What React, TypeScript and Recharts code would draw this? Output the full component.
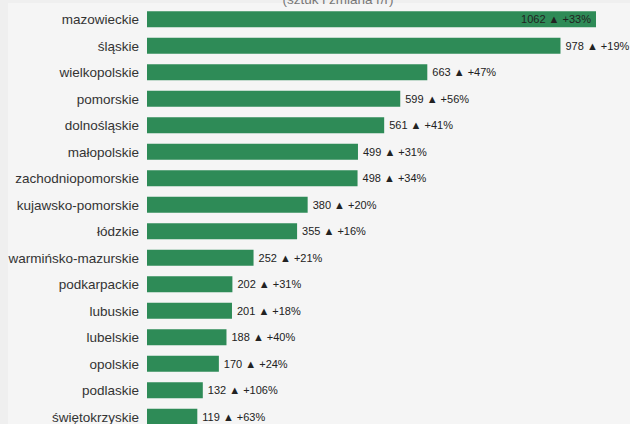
import React from "react";
import { BarChart, Bar, XAxis, YAxis, LabelList } from "recharts";

const categories = [
  "mazowieckie",
  "śląskie",
  "wielkopolskie",
  "pomorskie",
  "dolnośląskie",
  "małopolskie",
  "zachodniopomorskie",
  "kujawsko-pomorskie",
  "łódzkie",
  "warmińsko-mazurskie",
  "podkarpackie",
  "lubuskie",
  "lubelskie",
  "opolskie",
  "podlaskie",
  "świętokrzyskie",
];
const units = [1062, 978, 663, 599, 561, 499, 498, 380, 355, 252, 202, 201, 188, 170, 132, 119];
const changes = [33, 19, 47, 56, 41, 31, 34, 20, 16, 21, 31, 18, 40, 24, 106, 63];
const subtitle = "(sztuk i zmiana r/r)";

const data = categories.map((name, i) => ({
  name,
  value: units[i],
  change: changes[i],
}));

const FONT = "'Liberation Sans', Arial, Helvetica, sans-serif";

const ValueLabel = (props: any) => {
  const { x, y, width, height, index } = props;
  const d = data[index];
  const text = `${d.value} ▲ +${d.change}%`;
  const endX = x + width;
  const inside = endX + 66 > 630;
  return (
    <text
      x={inside ? endX - 5 : endX + 5}
      y={y + height / 2}
      dy={4}
      textAnchor={inside ? "end" : "start"}
      fontSize={11}
      fontFamily={FONT}
      fill="#222"
    >
      {text}
    </text>
  );
};

export default function App() {
  return (
    <div
      style={{
        position: "absolute",
        left: 0,
        top: 0,
        width: 630,
        height: 424,
        overflow: "hidden",
        background: "#efefef",
        fontFamily: FONT,
      }}
    >
      <div
        style={{
          position: "absolute",
          left: 8,
          top: 3,
          width: 640,
          height: 440,
          background: "#f5f5f5",
        }}
      />
      <div
        style={{
          position: "absolute",
          left: 263,
          top: -7,
          width: 150,
          textAlign: "center",
          fontSize: 13.5,
          lineHeight: "13px",
          color: "#777",
          whiteSpace: "nowrap",
        }}
      >
        {subtitle}
      </div>
      <div style={{ position: "absolute", left: 0, top: 0 }}>
        <BarChart
          width={630}
          height={440}
          data={data}
          layout="vertical"
          margin={{ top: 6, right: 34, bottom: 10, left: 0 }}
          barCategoryGap="20%"
        >
          <XAxis type="number" hide domain={[0, 1062]} />
          <YAxis
            type="category"
            dataKey="name"
            width={147}
            axisLine={false}
            tickLine={false}
            interval={0}
            tick={{ fontSize: 13.5, fill: "#333", fontFamily: FONT }}
          />
          <Bar dataKey="value" fill="#2e8b57" isAnimationActive={false}>
            <LabelList dataKey="value" content={ValueLabel} />
          </Bar>
        </BarChart>
      </div>
    </div>
  );
}
